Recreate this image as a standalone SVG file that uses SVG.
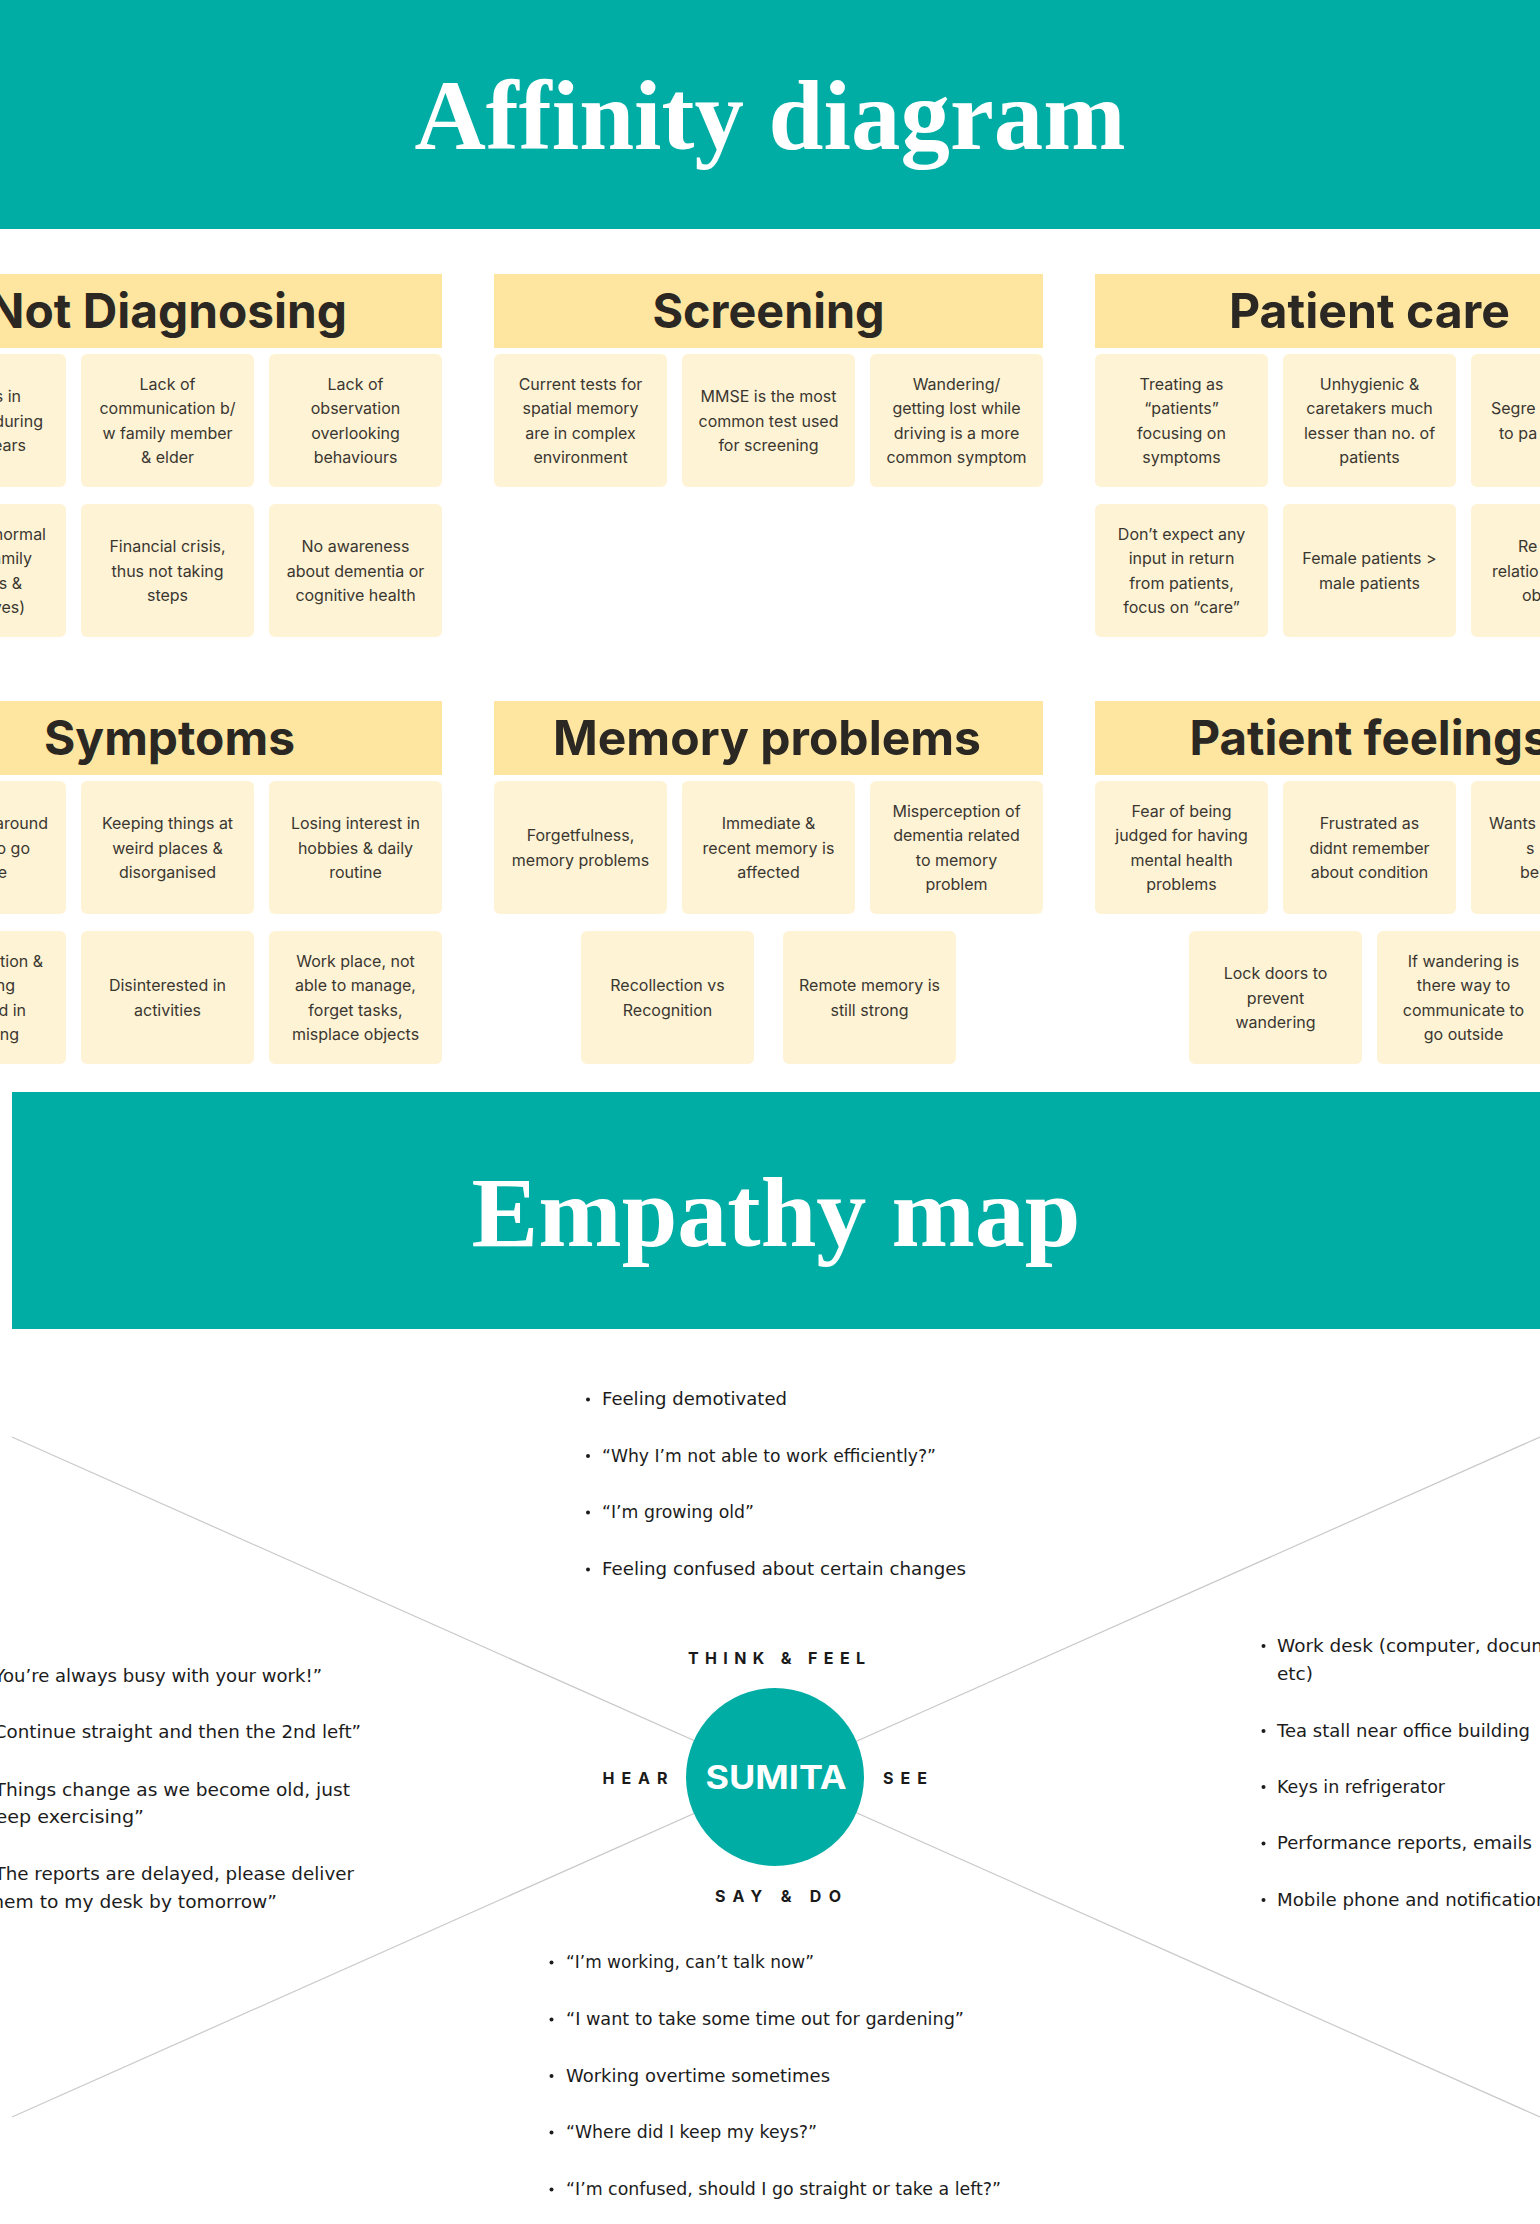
<svg xmlns="http://www.w3.org/2000/svg" width="1540" height="2224" viewBox="0 0 1540 2224">
<style>
.banner{fill:#00ADA5}
.title{font-family:"Liberation Serif","Times New Roman",serif;font-weight:700;font-size:99px;fill:#ffffff;text-anchor:middle}
.hdr{fill:#FEE6A1}
.hdrt{font-family:Inter,"Liberation Sans",sans-serif;font-weight:700;font-size:48px;fill:#2B2823;text-anchor:middle}
.card{fill:#FFF3D5}
.ct{font-family:Inter,"Liberation Sans",sans-serif;font-size:16px;fill:#3A3731;text-anchor:middle}
.cte{font-family:Inter,"Liberation Sans",sans-serif;font-size:16px;fill:#3A3731;text-anchor:end}
.cts{font-family:Inter,"Liberation Sans",sans-serif;font-size:16px;fill:#3A3731;text-anchor:start}
.li{font-family:"DejaVu Sans","Liberation Sans",sans-serif;font-size:17px;fill:#1C1C1C}
.lab{font-family:Inter,"Liberation Sans",sans-serif;font-weight:700;font-size:16px;fill:#1A1A1A;text-anchor:middle}
.dot{fill:#1C1C1C}
.conn{stroke:#C9C9C9;stroke-width:1.2;fill:none}
</style>

<!-- Affinity banner -->
<g id="affinity-banner">
<rect class="banner" x="0" y="0" width="1540" height="229"/>
<text class="title" x="770" y="149" textLength="711" lengthAdjust="spacingAndGlyphs">Affinity diagram</text>
</g>

<!-- Not Diagnosing -->
<g id="group-not-diagnosing">
<rect class="hdr" x="-107" y="274" width="549" height="74"/>
<text class="hdrt" x="167.5" y="328" textLength="359" lengthAdjust="spacingAndGlyphs">Not Diagnosing</text>
<g id="nd-1"><rect class="card" x="-107" y="354" width="173" height="133" rx="6"/>
<text class="cte"><tspan x="21" y="402.2">s in</tspan><tspan x="43" y="426.5">during</tspan><tspan x="26" y="450.8">ears</tspan></text></g>
<g id="nd-2"><rect class="card" x="81" y="354" width="173" height="133" rx="6"/>
<text class="ct"><tspan x="167.5" y="390">Lack of</tspan><tspan x="167.5" y="414.4">communication b/</tspan><tspan x="167.5" y="438.7">w family member</tspan><tspan x="167.5" y="463">&amp; elder</tspan></text></g>
<g id="nd-3"><rect class="card" x="269" y="354" width="173" height="133" rx="6"/>
<text class="ct"><tspan x="355.5" y="390">Lack of</tspan><tspan x="355.5" y="414.4">observation</tspan><tspan x="355.5" y="438.7">overlooking</tspan><tspan x="355.5" y="463">behaviours</tspan></text></g>
<g id="nd-4"><rect class="card" x="-107" y="504" width="173" height="133" rx="6"/>
<text class="cte"><tspan x="46" y="540">normal</tspan><tspan x="32" y="564.4">amily</tspan><tspan x="22" y="588.7">s &amp;</tspan><tspan x="25" y="613">ves)</tspan></text></g>
<g id="nd-5"><rect class="card" x="81" y="504" width="173" height="133" rx="6"/>
<text class="ct"><tspan x="167.5" y="552.2">Financial crisis,</tspan><tspan x="167.5" y="576.5">thus not taking</tspan><tspan x="167.5" y="600.8">steps</tspan></text></g>
<g id="nd-6"><rect class="card" x="269" y="504" width="173" height="133" rx="6"/>
<text class="ct"><tspan x="355.5" y="552.2">No awareness</tspan><tspan x="355.5" y="576.5">about dementia or</tspan><tspan x="355.5" y="600.8">cognitive health</tspan></text></g>
</g>

<!-- Screening -->
<g id="group-screening">
<rect class="hdr" x="494" y="274" width="549" height="74"/>
<text class="hdrt" x="768.5" y="328" textLength="232" lengthAdjust="spacingAndGlyphs">Screening</text>
<g id="sc-1"><rect class="card" x="494" y="354" width="173" height="133" rx="6"/>
<text class="ct"><tspan x="580.5" y="390">Current tests for</tspan><tspan x="580.5" y="414.4">spatial memory</tspan><tspan x="580.5" y="438.7">are in complex</tspan><tspan x="580.5" y="463">environment</tspan></text></g>
<g id="sc-2"><rect class="card" x="682" y="354" width="173" height="133" rx="6"/>
<text class="ct"><tspan x="768.5" y="402.2">MMSE is the most</tspan><tspan x="768.5" y="426.5">common test used</tspan><tspan x="768.5" y="450.8">for screening</tspan></text></g>
<g id="sc-3"><rect class="card" x="870" y="354" width="173" height="133" rx="6"/>
<text class="ct"><tspan x="956.5" y="390">Wandering/</tspan><tspan x="956.5" y="414.4">getting lost while</tspan><tspan x="956.5" y="438.7">driving is a more</tspan><tspan x="956.5" y="463">common symptom</tspan></text></g>
</g>

<!-- Patient care -->
<g id="group-patient-care">
<rect class="hdr" x="1095" y="274" width="549" height="74"/>
<text class="hdrt" x="1369.5" y="328" textLength="281" lengthAdjust="spacingAndGlyphs">Patient care</text>
<g id="pc-1"><rect class="card" x="1095" y="354" width="173" height="133" rx="6"/>
<text class="ct"><tspan x="1181.5" y="390">Treating as</tspan><tspan x="1181.5" y="414.4">“patients”</tspan><tspan x="1181.5" y="438.7">focusing on</tspan><tspan x="1181.5" y="463">symptoms</tspan></text></g>
<g id="pc-2"><rect class="card" x="1283" y="354" width="173" height="133" rx="6"/>
<text class="ct"><tspan x="1369.5" y="390">Unhygienic &amp;</tspan><tspan x="1369.5" y="414.4">caretakers much</tspan><tspan x="1369.5" y="438.7">lesser than no. of</tspan><tspan x="1369.5" y="463">patients</tspan></text></g>
<g id="pc-3"><rect class="card" x="1471" y="354" width="173" height="133" rx="6"/>
<text class="cts"><tspan x="1491" y="414.4">Segre</tspan><tspan x="1499" y="438.7">to pa</tspan></text></g>
<g id="pc-4"><rect class="card" x="1095" y="504" width="173" height="133" rx="6"/>
<text class="ct"><tspan x="1181.5" y="540">Don’t expect any</tspan><tspan x="1181.5" y="564.4">input in return</tspan><tspan x="1181.5" y="588.7">from patients,</tspan><tspan x="1181.5" y="613">focus on “care”</tspan></text></g>
<g id="pc-5"><rect class="card" x="1283" y="504" width="173" height="133" rx="6"/>
<text class="ct"><tspan x="1369.5" y="564.4">Female patients &gt;</tspan><tspan x="1369.5" y="588.7">male patients</tspan></text></g>
<g id="pc-6"><rect class="card" x="1471" y="504" width="173" height="133" rx="6"/>
<text class="cts"><tspan x="1518" y="552.2">Re</tspan><tspan x="1492" y="576.5">relatio</tspan><tspan x="1522" y="600.8">ob</tspan></text></g>
</g>

<!-- Symptoms -->
<g id="group-symptoms">
<rect class="hdr" x="-107" y="701" width="549" height="74"/>
<text class="hdrt" x="169.5" y="755" textLength="251" lengthAdjust="spacingAndGlyphs">Symptoms</text>
<g id="sy-1"><rect class="card" x="-107" y="781" width="173" height="133" rx="6"/>
<text class="cte"><tspan x="48" y="829.2">around</tspan><tspan x="30" y="853.5">o go</tspan><tspan x="7" y="877.8">e</tspan></text></g>
<g id="sy-2"><rect class="card" x="81" y="781" width="173" height="133" rx="6"/>
<text class="ct"><tspan x="167.5" y="829.2">Keeping things at</tspan><tspan x="167.5" y="853.5">weird places &amp;</tspan><tspan x="167.5" y="877.8">disorganised</tspan></text></g>
<g id="sy-3"><rect class="card" x="269" y="781" width="173" height="133" rx="6"/>
<text class="ct"><tspan x="355.5" y="829.2">Losing interest in</tspan><tspan x="355.5" y="853.5">hobbies &amp; daily</tspan><tspan x="355.5" y="877.8">routine</tspan></text></g>
<g id="sy-4"><rect class="card" x="-107" y="931" width="173" height="133" rx="6"/>
<text class="cte"><tspan x="43" y="967">tion &amp;</tspan><tspan x="15" y="991.4">ng</tspan><tspan x="26" y="1015.7">d in</tspan><tspan x="19" y="1040">ng</tspan></text></g>
<g id="sy-5"><rect class="card" x="81" y="931" width="173" height="133" rx="6"/>
<text class="ct"><tspan x="167.5" y="991.4">Disinterested in</tspan><tspan x="167.5" y="1015.7">activities</tspan></text></g>
<g id="sy-6"><rect class="card" x="269" y="931" width="173" height="133" rx="6"/>
<text class="ct"><tspan x="355.5" y="967">Work place, not</tspan><tspan x="355.5" y="991.4">able to manage,</tspan><tspan x="355.5" y="1015.7">forget tasks,</tspan><tspan x="355.5" y="1040">misplace objects</tspan></text></g>
</g>

<!-- Memory problems -->
<g id="group-memory-problems">
<rect class="hdr" x="494" y="701" width="549" height="74"/>
<text class="hdrt" x="767" y="755" textLength="428" lengthAdjust="spacingAndGlyphs">Memory problems</text>
<g id="mp-1"><rect class="card" x="494" y="781" width="173" height="133" rx="6"/>
<text class="ct"><tspan x="580.5" y="841.4">Forgetfulness,</tspan><tspan x="580.5" y="865.7">memory problems</tspan></text></g>
<g id="mp-2"><rect class="card" x="682" y="781" width="173" height="133" rx="6"/>
<text class="ct"><tspan x="768.5" y="829.2">Immediate &amp;</tspan><tspan x="768.5" y="853.5">recent memory is</tspan><tspan x="768.5" y="877.8">affected</tspan></text></g>
<g id="mp-3"><rect class="card" x="870" y="781" width="173" height="133" rx="6"/>
<text class="ct"><tspan x="956.5" y="817">Misperception of</tspan><tspan x="956.5" y="841.4">dementia related</tspan><tspan x="956.5" y="865.7">to memory</tspan><tspan x="956.5" y="890">problem</tspan></text></g>
<g id="mp-4"><rect class="card" x="581" y="931" width="173" height="133" rx="6"/>
<text class="ct"><tspan x="667.5" y="991.4">Recollection vs</tspan><tspan x="667.5" y="1015.7">Recognition</tspan></text></g>
<g id="mp-5"><rect class="card" x="783" y="931" width="173" height="133" rx="6"/>
<text class="ct"><tspan x="869.5" y="991.4">Remote memory is</tspan><tspan x="869.5" y="1015.7">still strong</tspan></text></g>
</g>

<!-- Patient feelings -->
<g id="group-patient-feelings">
<rect class="hdr" x="1095" y="701" width="549" height="74"/>
<text class="hdrt" x="1369.5" y="755" textLength="360" lengthAdjust="spacingAndGlyphs">Patient feelings</text>
<g id="pf-1"><rect class="card" x="1095" y="781" width="173" height="133" rx="6"/>
<text class="ct"><tspan x="1181.5" y="817">Fear of being</tspan><tspan x="1181.5" y="841.4">judged for having</tspan><tspan x="1181.5" y="865.7">mental health</tspan><tspan x="1181.5" y="890">problems</tspan></text></g>
<g id="pf-2"><rect class="card" x="1283" y="781" width="173" height="133" rx="6"/>
<text class="ct"><tspan x="1369.5" y="829.2">Frustrated as</tspan><tspan x="1369.5" y="853.5">didnt remember</tspan><tspan x="1369.5" y="877.8">about condition</tspan></text></g>
<g id="pf-3"><rect class="card" x="1471" y="781" width="173" height="133" rx="6"/>
<text class="cts"><tspan x="1489" y="829.2">Wants</tspan><tspan x="1526" y="853.5">s</tspan><tspan x="1520" y="877.8">be</tspan></text></g>
<g id="pf-4"><rect class="card" x="1189" y="931" width="173" height="133" rx="6"/>
<text class="ct"><tspan x="1275.5" y="979.2">Lock doors to</tspan><tspan x="1275.5" y="1003.5">prevent</tspan><tspan x="1275.5" y="1027.8">wandering</tspan></text></g>
<g id="pf-5"><rect class="card" x="1377" y="931" width="173" height="133" rx="6"/>
<text class="ct"><tspan x="1463.5" y="967">If wandering is</tspan><tspan x="1463.5" y="991.4">there way to</tspan><tspan x="1463.5" y="1015.7">communicate to</tspan><tspan x="1463.5" y="1040">go outside</tspan></text></g>
</g>

<!-- Empathy banner -->
<g id="empathy-banner">
<rect class="banner" x="12" y="1092" width="1528" height="237"/>
<text class="title" x="776" y="1246" textLength="609" lengthAdjust="spacingAndGlyphs">Empathy map</text>
</g>

<!-- Connectors -->
<g id="connectors">
<line class="conn" x1="12" y1="1437" x2="1540" y2="2117"/>
<line class="conn" x1="12" y1="2117" x2="1540" y2="1437"/>
</g>

<!-- Center node -->
<g id="node-sumita">
<circle cx="775" cy="1777" r="89" fill="#00ADA5"/>
<text x="776" y="1789" font-family="Inter, 'Liberation Sans', sans-serif" font-weight="700" font-size="32" fill="#ffffff" text-anchor="middle" textLength="141" lengthAdjust="spacingAndGlyphs">SUMITA</text>
</g>

<g id="label-think-feel"><text class="lab" x="776.5" y="1664" textLength="177" lengthAdjust="spacing">THINK &amp; FEEL</text></g>
<g id="label-hear"><text class="lab" x="635" y="1784" textLength="65" lengthAdjust="spacing">HEAR</text></g>
<g id="label-see"><text class="lab" x="905" y="1784" textLength="44" lengthAdjust="spacing">SEE</text></g>
<g id="label-say-do"><text class="lab" x="778" y="1902" textLength="126" lengthAdjust="spacing">SAY &amp; DO</text></g>

<!-- Think & feel list -->
<g id="list-think-feel">
<circle class="dot" cx="588" cy="1399.5" r="2"/>
<text class="li" x="602" y="1405" textLength="185" lengthAdjust="spacingAndGlyphs">Feeling demotivated</text>
<circle class="dot" cx="588" cy="1456" r="2"/>
<text class="li" x="602" y="1461.7" textLength="334" lengthAdjust="spacingAndGlyphs">“Why I’m not able to work efficiently?”</text>
<circle class="dot" cx="588" cy="1512.5" r="2"/>
<text class="li" x="602" y="1518" textLength="152" lengthAdjust="spacingAndGlyphs">“I’m growing old”</text>
<circle class="dot" cx="588" cy="1569.5" r="2"/>
<text class="li" x="602" y="1575" textLength="364" lengthAdjust="spacingAndGlyphs">Feeling confused about certain changes</text>
</g>

<!-- Hear list -->
<g id="list-hear">
<text class="li" x="-15" y="1681.7" textLength="337" lengthAdjust="spacingAndGlyphs">“You’re always busy with your work!”</text>
<text class="li" x="-15" y="1738" textLength="376" lengthAdjust="spacingAndGlyphs">“Continue straight and then the 2nd left”</text>
<text class="li" x="-15" y="1795.7" textLength="365" lengthAdjust="spacingAndGlyphs">“Things change as we become old, just</text>
<text class="li" x="-15" y="1823" textLength="159" lengthAdjust="spacingAndGlyphs">keep exercising”</text>
<text class="li" x="-15" y="1880" textLength="369" lengthAdjust="spacingAndGlyphs">“The reports are delayed, please deliver</text>
<text class="li" x="-15" y="1908" textLength="292" lengthAdjust="spacingAndGlyphs">them to my desk by tomorrow”</text>
</g>

<!-- See list -->
<g id="list-see">
<circle class="dot" cx="1263.5" cy="1646" r="2"/>
<text class="li" x="1277" y="1651.7" textLength="318" lengthAdjust="spacingAndGlyphs">Work desk (computer, documents,</text>
<text class="li" x="1277" y="1680" textLength="36" lengthAdjust="spacingAndGlyphs">etc)</text>
<circle class="dot" cx="1263.5" cy="1731" r="2"/>
<text class="li" x="1277" y="1736.7" textLength="253" lengthAdjust="spacingAndGlyphs">Tea stall near office building</text>
<circle class="dot" cx="1263.5" cy="1787" r="2"/>
<text class="li" x="1277" y="1792.7" textLength="168" lengthAdjust="spacingAndGlyphs">Keys in refrigerator</text>
<circle class="dot" cx="1263.5" cy="1843.5" r="2"/>
<text class="li" x="1277" y="1849.3" textLength="255" lengthAdjust="spacingAndGlyphs">Performance reports, emails</text>
<circle class="dot" cx="1263.5" cy="1900" r="2"/>
<text class="li" x="1277" y="1906" textLength="280" lengthAdjust="spacingAndGlyphs">Mobile phone and notifications</text>
</g>

<!-- Say & do list -->
<g id="list-say-do">
<circle class="dot" cx="551.5" cy="1962.5" r="2"/>
<text class="li" x="566" y="1968.3" textLength="248" lengthAdjust="spacingAndGlyphs">“I’m working, can’t talk now”</text>
<circle class="dot" cx="551.5" cy="2019.5" r="2"/>
<text class="li" x="566" y="2025" textLength="398" lengthAdjust="spacingAndGlyphs">“I want to take some time out for gardening”</text>
<circle class="dot" cx="551.5" cy="2076" r="2"/>
<text class="li" x="566" y="2081.7" textLength="264" lengthAdjust="spacingAndGlyphs">Working overtime sometimes</text>
<circle class="dot" cx="551.5" cy="2132.5" r="2"/>
<text class="li" x="566" y="2138.3" textLength="251" lengthAdjust="spacingAndGlyphs">“Where did I keep my keys?”</text>
<circle class="dot" cx="551.5" cy="2189.5" r="2"/>
<text class="li" x="566" y="2195" textLength="435" lengthAdjust="spacingAndGlyphs">“I’m confused, should I go straight or take a left?”</text>
</g>
</svg>
